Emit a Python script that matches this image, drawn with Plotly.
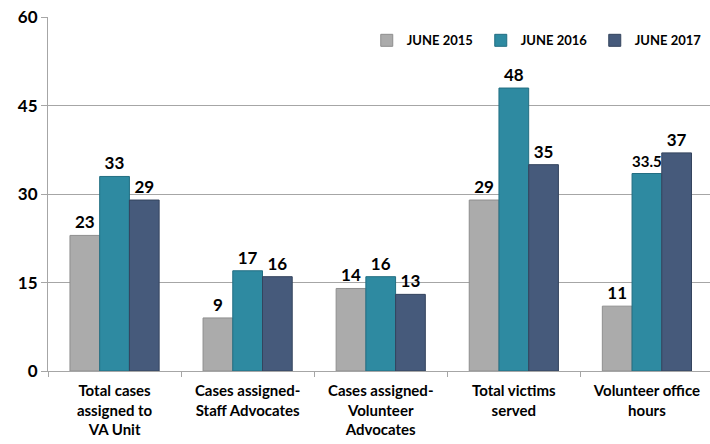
import plotly.graph_objects as go

categories = [
    "Total cases<br>assigned to<br>VA Unit",
    "Cases assigned-<br>Staff Advocates",
    "Cases assigned-<br>Volunteer<br>Advocates",
    "Total victims<br>served",
    "Volunteer office<br>hours",
]
series_names = ["JUNE 2015", "JUNE 2016", "JUNE 2017"]
june_2015 = [23, 9, 14, 29, 11]
june_2016 = [33, 17, 16, 48, 33.5]
june_2017 = [29, 16, 13, 35, 37]
y_ticks = [0, 15, 30, 45, 60]

colors = ["#ABABAB", "#2E8AA1", "#465A7B"]
edge = ["#8E8E8E", "#226E82", "#34445E"]
FONT = "Lato"

fig = go.Figure()
for name, vals, c, e in zip(series_names, [june_2015, june_2016, june_2017], colors, edge):
    fig.add_trace(go.Bar(
        x=categories,
        y=vals,
        name=name,
        marker=dict(color=c, line=dict(color=e, width=1)),
        text=[f"{v:g}" for v in vals],
        textposition="outside",
        textfont=dict(family=FONT, size=17, color="black", weight="bold"),
        cliponaxis=False,
    ))

fig.update_layout(
    width=710,
    height=444,
    margin=dict(l=48, r=0, t=17, b=73, autoexpand=False),
    barmode="group",
    bargap=0.33,
    bargroupgap=0,
    plot_bgcolor="white",
    paper_bgcolor="white",
    font=dict(family=FONT, color="black"),
    showlegend=True,
    legend=dict(
        orientation="h",
        x=0.4815,
        xanchor="left",
        y=0.934,
        yanchor="middle",
        font=dict(family=FONT, size=13, color="black", weight="bold"),
        itemwidth=30,
        entrywidth=69,
        bgcolor="rgba(0,0,0,0)",
        borderwidth=0,
    ),
)

fig.update_yaxes(
    range=[0, 60.05],
    tickvals=y_ticks,
    showgrid=True,
    gridcolor="#A6A6A6",
    gridwidth=1,
    showline=True,
    linecolor="#A6A6A6",
    ticks="outside",
    ticklen=6,
    tickcolor="#A6A6A6",
    ticklabeloverflow="allow",
    tickfont=dict(family=FONT, size=17, color="black", weight="bold"),
    zeroline=False,
    automargin=False,
)
fig.update_xaxes(
    range=[-0.5, 4.474],
    showline=True,
    linecolor="#A6A6A6",
    ticks="outside",
    tickson="boundaries",
    ticklen=5,
    tickcolor="#A6A6A6",
    ticklabelstandoff=6,
    tickfont=dict(family=FONT, size=15, color="black", weight="bold"),
    automargin=False,
)

# drop the default 8px page margin so the figure sits at the window corner
fig.write_html(
    "out.html",
    config={"displayModeBar": False},
    post_script="document.body.style.margin='0';",
)
